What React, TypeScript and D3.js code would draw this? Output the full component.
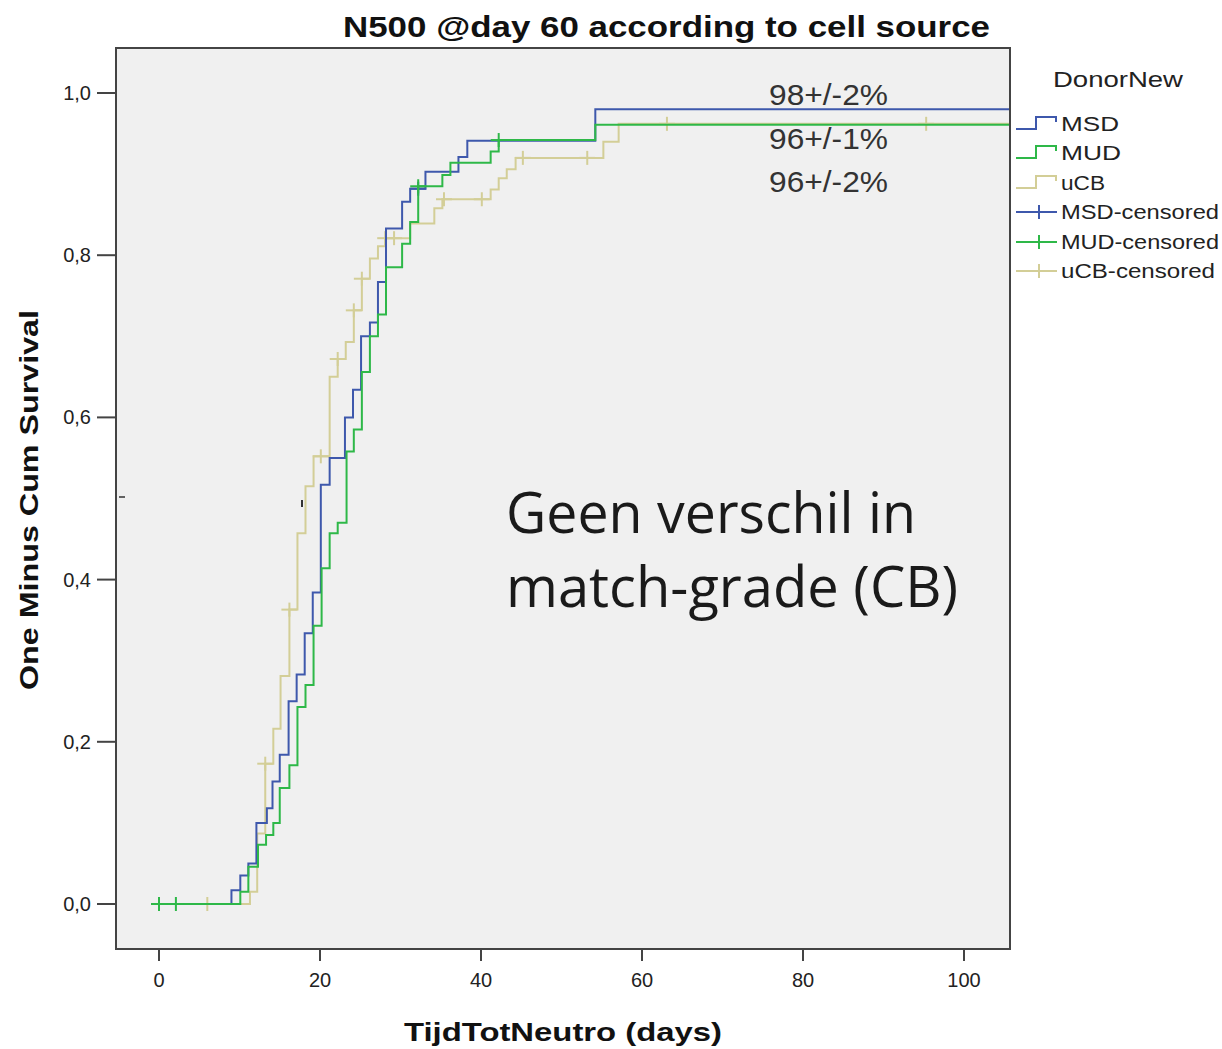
import React from "react";
import * as d3 from "d3";

// ---------- data ----------
const xTicks = [0, 20, 40, 60, 80, 100];
const yTicks = [0, 0.2, 0.4, 0.6, 0.8, 1.0];
const yTickLabels = ["0,0", "0,2", "0,4", "0,6", "0,8", "1,0"];

const seriesNames = ["MSD", "MUD", "uCB"];
const seriesColors = ["#3E58AC", "#2EB848", "#D3CE97"];

const msdTimes = [0, 9.0, 10.1, 11.1, 12.1, 13.4, 14.1, 15.0, 16.1, 17.1, 18.1, 19.1, 20.1, 21.2, 23.1, 24.1, 25.1, 26.2, 27.2, 28.2, 30.2, 31.2, 33.1, 37.2, 38.3, 54.2, 106];
const msdValues = [0, 0.017, 0.035, 0.05, 0.10, 0.118, 0.151, 0.184, 0.25, 0.283, 0.334, 0.384, 0.517, 0.55, 0.60, 0.634, 0.70, 0.717, 0.767, 0.833, 0.866, 0.882, 0.903, 0.921, 0.941, 0.98, 0.98];
const msdCensored = [32.2];

const mudTimes = [0, 10.1, 11.1, 12.3, 13.3, 14.2, 15.0, 16.2, 17.2, 18.2, 19.2, 20.2, 21.2, 22.2, 23.3, 24.2, 25.2, 26.2, 27.2, 28.2, 30.2, 31.2, 32.2, 35.2, 36.2, 41.2, 42.2, 54.2, 106];
const mudValues = [0, 0.015, 0.046, 0.073, 0.085, 0.10, 0.143, 0.171, 0.243, 0.27, 0.343, 0.414, 0.457, 0.47, 0.558, 0.585, 0.656, 0.70, 0.727, 0.785, 0.814, 0.841, 0.885, 0.899, 0.914, 0.928, 0.942, 0.961, 0.961];
const mudCensored = [0, 2.1, 32.2, 42.2];

const ucbTimes = [0, 11.3, 12.2, 13.2, 14.2, 15.1, 16.2, 17.2, 18.2, 19.2, 21.2, 22.2, 23.2, 24.2, 25.2, 26.2, 27.2, 28.1, 31.2, 34.2, 35.2, 41.2, 42.2, 43.2, 44.3, 55.2, 57.1, 106];
const ucbValues = [0, 0.015, 0.087, 0.173, 0.216, 0.281, 0.363, 0.457, 0.515, 0.552, 0.65, 0.672, 0.693, 0.732, 0.771, 0.796, 0.811, 0.821, 0.839, 0.858, 0.869, 0.881, 0.895, 0.906, 0.92, 0.94, 0.962, 0.962];
const ucbCensored = [6, 13.2, 16.2, 20.1, 22.2, 24.2, 25.2, 28.1, 29.2, 35.4, 40.1, 45.2, 53.2, 63.1, 95.3];

const annotations = ["98+/-2%", "96+/-1%", "96+/-2%"];

// ---------- layout ----------
const W = 1222;
const H = 1049;
const frame = { left: 116, top: 48, right: 1010, bottom: 949 };

const x = d3.scaleLinear().domain([0, 100]).range([159, 964]);
const y = d3.scaleLinear().domain([0, 1]).range([904, 93]);

function valueAt(times: number[], values: number[], t: number) {
  let v = values[0];
  for (let i = 0; i < times.length; i++) if (times[i] <= t + 1e-9) v = values[i];
  return v;
}

const series = [
  { name: "uCB", color: seriesColors[2], times: ucbTimes, values: ucbValues, cens: ucbCensored },
  { name: "MSD", color: seriesColors[0], times: msdTimes, values: msdValues, cens: msdCensored },
  { name: "MUD", color: seriesColors[1], times: mudTimes, values: mudValues, cens: mudCensored },
];

const line = d3
  .line<[number, number]>()
  .x((d) => x(d[0]))
  .y((d) => y(d[1]))
  .curve(d3.curveStepAfter);

const FONT = "'Liberation Sans', Arial, sans-serif";

export default function App() {
  const legendRows = [
    ...seriesNames.map((n, i) => ({ label: n, color: seriesColors[i], kind: "step" })),
    ...seriesNames.map((n, i) => ({ label: n + "-censored", color: seriesColors[i], kind: "cens" })),
  ];
  const legendY = [124, 153, 183, 212, 242, 271];
  const legendW = [58, 60, 44, 158, 158, 154];

  return (
    <svg width={W} height={H} style={{ position: "absolute", left: 0, top: 0, background: "#fff" }} fontFamily={FONT}>
      <defs>
        <clipPath id="plotclip">
          <rect x={frame.left} y={frame.top} width={frame.right - frame.left} height={frame.bottom - frame.top} />
        </clipPath>
      </defs>
      {/* title */}
      <text x={343} y={37} fontSize={30} fontWeight="bold" fill="#111" textLength={647} lengthAdjust="spacingAndGlyphs">
        N500 @day 60 according to cell source
      </text>

      {/* plot background */}
      <rect x={frame.left} y={frame.top} width={frame.right - frame.left} height={frame.bottom - frame.top} fill="#f0f0f0" />

      {/* curves */}
      <g clipPath="url(#plotclip)">
        {series.map((s) => (
          <g key={s.name}>
            <path
              d={line(s.times.map((t, i) => [t, s.values[i]] as [number, number])) || ""}
              fill="none"
              stroke={s.color}
              strokeWidth={2}
            />
            {s.cens.map((t, i) => {
              const cx = x(t);
              const cy = y(valueAt(s.times, s.values, t));
              return (
                <g key={i} stroke={s.color} strokeWidth={2}>
                  <line x1={cx} x2={cx} y1={cy - 7} y2={cy + 7} />
                  <line x1={cx - 8} x2={cx + 8} y1={cy} y2={cy} />
                </g>
              );
            })}
          </g>
        ))}
      </g>

      {/* frame */}
      <rect x={frame.left} y={frame.top} width={frame.right - frame.left} height={frame.bottom - frame.top} fill="none" stroke="#444" strokeWidth={2} />

      {/* y axis ticks */}
      {yTicks.map((v, i) => (
        <g key={i}>
          <line x1={97} x2={frame.left} y1={y(v)} y2={y(v)} stroke="#444" strokeWidth={2} />
          <text x={91} y={y(v) + 7} fontSize={20} textAnchor="end" fill="#222">
            {yTickLabels[i]}
          </text>
        </g>
      ))}
      {/* x axis ticks */}
      {xTicks.map((v, i) => (
        <g key={i}>
          <line x1={x(v)} x2={x(v)} y1={frame.bottom} y2={frame.bottom + 12} stroke="#444" strokeWidth={2} />
          <text x={x(v)} y={987} fontSize={20} textAnchor="middle" fill="#222">
            {v}
          </text>
        </g>
      ))}

      {/* axis titles */}
      <text x={563} y={1041} fontSize={25} fontWeight="bold" textAnchor="middle" fill="#111" textLength={318} lengthAdjust="spacingAndGlyphs">
        TijdTotNeutro (days)
      </text>
      <text
        transform="translate(38,500) rotate(-90)"
        fontSize={25}
        fontWeight="bold"
        textAnchor="middle"
        fill="#111"
        textLength={380}
        lengthAdjust="spacingAndGlyphs"
      >
        One Minus Cum Survival
      </text>

      {/* stray marks */}
      <line x1={119} x2={125} y1={497} y2={497} stroke="#333" strokeWidth={1.5} />
      <line x1={302} x2={302} y1={500} y2={507} stroke="#333" strokeWidth={2} />

      {/* percentage annotations */}
      {annotations.map((a, i) => (
        <text key={i} x={769} y={[105, 149, 192][i]} fontSize={30} fill="#333" textLength={119} lengthAdjust="spacingAndGlyphs">
          {a}
        </text>
      ))}

      {/* big note */}
      <text x={506} y={533} fontSize={56} fill="#1a1a1a" fontFamily="'Open Sans', sans-serif" textLength={410} lengthAdjust="spacingAndGlyphs">
        Geen verschil in
      </text>
      <text x={506} y={607} fontSize={56} fill="#1a1a1a" fontFamily="'Open Sans', sans-serif" textLength={452} lengthAdjust="spacingAndGlyphs">
        match-grade (CB)
      </text>

      {/* legend */}
      <text x={1053} y={87} fontSize={22} fill="#222" textLength={130} lengthAdjust="spacingAndGlyphs">
        DonorNew
      </text>
      {legendRows.map((r, i) => {
        const ly = legendY[i];
        return (
          <g key={i}>
            {r.kind === "step" ? (
              <path d={`M1016,${ly + 5}H1036V${ly - 7}H1056V${ly - 2}`} fill="none" stroke={r.color} strokeWidth={2} />
            ) : (
              <g stroke={r.color} strokeWidth={2}>
                <line x1={1016} x2={1057} y1={ly} y2={ly} />
                <line x1={1039} x2={1039} y1={ly - 7} y2={ly + 7} />
              </g>
            )}
            <text x={1061} y={ly + 7} fontSize={20} fill="#222" textLength={legendW[i]} lengthAdjust="spacingAndGlyphs">
              {r.label}
            </text>
          </g>
        );
      })}
    </svg>
  );
}
